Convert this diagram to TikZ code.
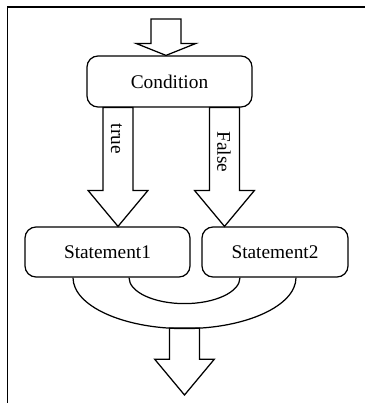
\documentclass[tikz,border=0pt]{standalone}
\usepackage{fontspec}
\setmainfont{Liberation Serif}
\usetikzlibrary{calc}

% hollow block arrow, pointing down from #2 to #3, head length #1
\newcommand{\blockarrow}[3][20.4pt]{%
  \draw[fill=white] let \p1=(#2), \p2=(#3) in
    (\x1-8.5pt,\y1) -- (\x1-8.5pt,\y2+#1) -- (\x1-17pt,\y2+#1) -- (\x1,\y2)
    -- (\x1+17pt,\y2+#1) -- (\x1+8.5pt,\y2+#1) -- (\x1+8.5pt,\y1) -- cycle;
}

\tikzset{
  stbox/.style={draw, rounded corners=0.22cm, minimum height=1cm,
    font=\fontsize{11}{13}\selectfont},
  lbl/.style={rotate=-90, font=\fontsize{11}{13}\selectfont}
}

\begin{document}
\begin{tikzpicture}[x=0.02cm, y=0.02cm, line width=0.7pt]
    \useasboundingbox (0,0) rectangle (365,-403);
    \draw[line width=0.9pt] (7.5,-403) -- (7.5,-7) -- (365,-7);

    \node[stbox, minimum width=3.3cm, minimum height=1.02cm] (cond) at (169.5,-81.5) {Condition};
    \node[stbox, minimum width=3.3cm] (st1) at (107.5,-252) {Statement1};
    \node[stbox, minimum width=2.92cm] (st2) at (275,-252) {Statement2};

    \coordinate (in) at (166,-19);
    \coordinate (tx) at (118,0);
    \coordinate (fx) at (224.5,0);
    \coordinate (o1) at (73,0);
    \coordinate (i1) at (129,0);
    \coordinate (out) at (184.5,-328);
    \coordinate (exit) at (184.5,-395);

    \blockarrow[6.8pt]{in}{cond.north -| in}
    \blockarrow{cond.south -| tx}{st1.north -| tx}
    \blockarrow{cond.south -| fx}{st2.north -| fx}
    \blockarrow{out}{exit}

    \draw (st1.south -| o1) arc[start angle=180, end angle=360, x radius=111.5, y radius=51];
    \draw (st1.south -| i1) arc[start angle=180, end angle=360, x radius=55.5, y radius=26];

    \node[lbl] (true) at (116.5,-139) {true};
    \node[lbl] (false) at (224,-152) {False};
\end{tikzpicture}
\end{document}
